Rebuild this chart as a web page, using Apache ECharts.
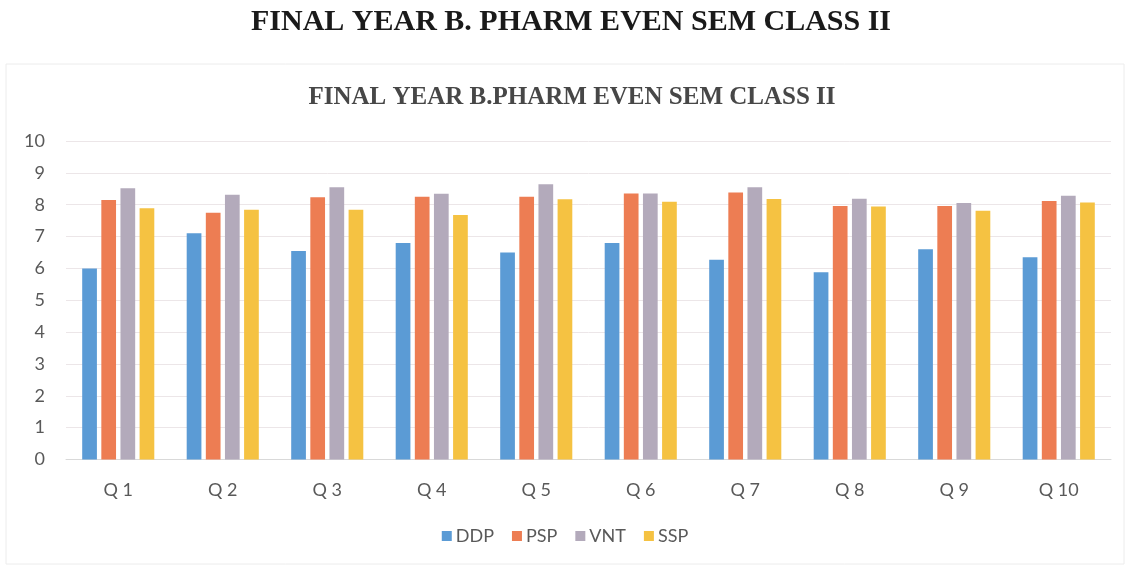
<!DOCTYPE html>
<html>
<head>
<meta charset="utf-8">
<script src="https://cdn.jsdelivr.net/npm/echarts@6/dist/echarts.min.js"></script>
<style>
  html, body { margin: 0; padding: 0; background: #ffffff; }
  #chart { width: 1130px; height: 571px; }
</style>
</head>
<body>
<div id="chart"></div>
<script>
// Question labels along the x axis
const categories = ['Q 1', 'Q 2', 'Q 3', 'Q 4', 'Q 5', 'Q 6', 'Q 7', 'Q 8', 'Q 9', 'Q 10'];

// Mean feedback score per question, one array per subject
const ddp = [6.0, 7.1, 6.55, 6.8, 6.5, 6.8, 6.27, 5.88, 6.6, 6.35];
const psp = [8.15, 7.75, 8.23, 8.25, 8.25, 8.35, 8.38, 7.96, 7.96, 8.12];
const vnt = [8.52, 8.31, 8.55, 8.34, 8.64, 8.35, 8.55, 8.19, 8.05, 8.28];
const ssp = [7.89, 7.84, 7.84, 7.68, 8.17, 8.09, 8.18, 7.94, 7.81, 8.07];

const seriesNames = ['DDP', 'PSP', 'VNT', 'SSP'];
const seriesValues = [ddp, psp, vnt, ssp];
const seriesColors = ['#5b9bd5', '#ed7d53', '#b3aabb', '#f5c242'];

const pageTitle = 'FINAL YEAR B. PHARM EVEN SEM CLASS II';
const chartTitle = 'FINAL YEAR B.PHARM EVEN SEM CLASS II';

const chart = echarts.init(document.getElementById('chart'), null, { renderer: 'canvas' });

const option = {
  backgroundColor: '#ffffff',
  animation: false,
  graphic: [
    {
      type: 'rect',
      shape: { x: 6, y: 64, width: 1118, height: 500 },
      style: { fill: 'none', stroke: '#ececec', lineWidth: 1 },
      silent: true
    },
    {
      type: 'text',
      x: 571,
      y: 22,
      silent: true,
      style: {
        text: pageTitle,
        align: 'center',
        verticalAlign: 'middle',
        font: 'bold 30px "Liberation Serif"',
        fill: '#1a1a1a'
      }
    },
    {
      type: 'text',
      x: 572,
      y: 98,
      silent: true,
      style: {
        text: chartTitle,
        align: 'center',
        verticalAlign: 'middle',
        font: 'bold 25px "Liberation Serif"',
        fill: '#474747'
      }
    }
  ],
  legend: {
    data: seriesNames,
    bottom: 21,
    left: 'center',
    itemWidth: 10,
    itemHeight: 10,
    itemGap: 18,
    icon: 'rect',
    textStyle: { fontFamily: 'Lato', fontSize: 18, color: '#595959', padding: [0, 0, 0, -1] }
  },
  grid: { left: 66, right: 19, top: 141, bottom: 111.5, containLabel: false },
  xAxis: {
    type: 'category',
    data: categories,
    axisLine: { lineStyle: { color: '#d9d9d9' } },
    axisTick: { show: false },
    axisLabel: { fontFamily: 'Lato', fontSize: 18, color: '#595959', margin: 22 }
  },
  yAxis: {
    type: 'value',
    min: 0,
    max: 10,
    interval: 1,
    axisLine: { show: false },
    axisTick: { show: false },
    splitLine: { lineStyle: { color: '#ece6e8' } },
    axisLabel: { fontFamily: 'Lato', fontSize: 18, color: '#595959', margin: 21 }
  },
  series: seriesNames.map((name, i) => ({
    name: name,
    type: 'bar',
    data: seriesValues[i],
    barGap: '30%',
    barCategoryGap: '31%',
    itemStyle: { color: seriesColors[i] }
  }))
};

chart.setOption(option);
</script>
</body>
</html>
